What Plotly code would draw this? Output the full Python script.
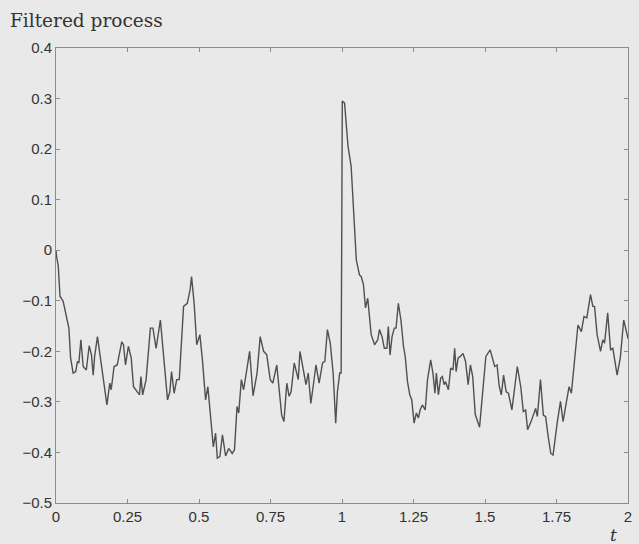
import plotly.graph_objects as go

t_vals = [0.0, 0.002, 0.008, 0.014, 0.025, 0.037, 0.045, 0.051, 0.060, 0.069, 0.075, 0.080, 0.087, 0.095,
          0.106, 0.116, 0.124, 0.130, 0.135, 0.145, 0.153, 0.161, 0.170, 0.178, 0.188, 0.193, 0.203,
          0.214, 0.222, 0.230, 0.236, 0.243, 0.253, 0.263, 0.271, 0.284, 0.292, 0.297, 0.303, 0.315,
          0.330, 0.339, 0.350, 0.365, 0.378, 0.390, 0.398, 0.404, 0.413, 0.422, 0.431, 0.446, 0.459,
          0.469, 0.474, 0.483, 0.492, 0.503, 0.512, 0.523, 0.531, 0.541, 0.550, 0.558, 0.564, 0.573,
          0.582, 0.593, 0.604, 0.616, 0.624, 0.633, 0.639, 0.648, 0.656, 0.668, 0.677, 0.689, 0.703,
          0.714, 0.726, 0.737, 0.749, 0.758, 0.772, 0.789, 0.797, 0.807, 0.815, 0.822, 0.833, 0.847,
          0.853, 0.865, 0.874, 0.882, 0.891, 0.899, 0.909, 0.920, 0.932, 0.940, 0.949, 0.959, 0.969,
          0.978, 0.984, 0.992, 0.997, 1.001, 1.009, 1.021, 1.029, 1.032, 1.050, 1.061, 1.067, 1.075,
          1.082, 1.090, 1.102, 1.114, 1.125, 1.131, 1.140, 1.148, 1.157, 1.162, 1.168, 1.175, 1.183,
          1.189, 1.197, 1.206, 1.215, 1.221, 1.229, 1.237, 1.244, 1.252, 1.260, 1.267, 1.273, 1.281,
          1.291, 1.299, 1.310, 1.318, 1.325, 1.330, 1.337, 1.345, 1.351, 1.357, 1.362, 1.372, 1.380,
          1.388, 1.394, 1.399, 1.406, 1.414, 1.423, 1.432, 1.441, 1.449, 1.457, 1.466, 1.481, 1.492,
          1.503, 1.518, 1.527, 1.534, 1.542, 1.550, 1.557, 1.565, 1.574, 1.582, 1.594, 1.605, 1.613,
          1.625, 1.634, 1.642, 1.649, 1.661, 1.669, 1.677, 1.683, 1.694, 1.704, 1.712, 1.721, 1.730,
          1.738, 1.744, 1.753, 1.764, 1.773, 1.782, 1.794, 1.802, 1.811, 1.825, 1.837, 1.846, 1.856,
          1.861, 1.869, 1.877, 1.883, 1.892, 1.904, 1.912, 1.918, 1.929, 1.939, 1.947, 1.955, 1.962,
          1.973, 1.985, 1.997, 2.0]

y_vals = [0.0, -0.012, -0.032, -0.091, -0.101, -0.131, -0.154, -0.213, -0.243, -0.240, -0.220, -0.223, -0.177, -0.230,
          -0.237, -0.189, -0.207, -0.247, -0.210, -0.171, -0.204, -0.243, -0.270, -0.306, -0.263, -0.276, -0.230,
          -0.227, -0.204, -0.181, -0.187, -0.227, -0.190, -0.213, -0.270, -0.280, -0.286, -0.250, -0.286, -0.256,
          -0.154, -0.154, -0.194, -0.138, -0.223, -0.296, -0.280, -0.240, -0.283, -0.256, -0.256, -0.111, -0.105,
          -0.078, -0.052, -0.105, -0.187, -0.167, -0.217, -0.296, -0.270, -0.342, -0.389, -0.362, -0.411, -0.408,
          -0.365, -0.407, -0.392, -0.402, -0.395, -0.309, -0.322, -0.256, -0.276, -0.233, -0.200, -0.288, -0.243,
          -0.171, -0.200, -0.207, -0.256, -0.263, -0.227, -0.326, -0.339, -0.263, -0.289, -0.280, -0.223, -0.256,
          -0.200, -0.237, -0.266, -0.243, -0.303, -0.270, -0.227, -0.263, -0.223, -0.220, -0.157, -0.184, -0.243,
          -0.342, -0.280, -0.243, -0.243, 0.295, 0.291, 0.206, 0.176, 0.166, -0.019, -0.049, -0.052, -0.068,
          -0.114, -0.095, -0.167, -0.187, -0.177, -0.157, -0.171, -0.194, -0.194, -0.151, -0.207, -0.171, -0.154,
          -0.154, -0.105, -0.138, -0.190, -0.210, -0.260, -0.286, -0.296, -0.342, -0.322, -0.332, -0.316, -0.306,
          -0.316, -0.256, -0.217, -0.243, -0.283, -0.243, -0.286, -0.253, -0.250, -0.266, -0.260, -0.276, -0.233,
          -0.237, -0.194, -0.240, -0.213, -0.210, -0.204, -0.220, -0.266, -0.227, -0.250, -0.325, -0.350, -0.276,
          -0.210, -0.197, -0.217, -0.230, -0.227, -0.270, -0.286, -0.247, -0.280, -0.283, -0.316, -0.266, -0.230,
          -0.270, -0.319, -0.316, -0.355, -0.339, -0.326, -0.313, -0.329, -0.256, -0.326, -0.329, -0.369, -0.402,
          -0.405, -0.375, -0.339, -0.299, -0.339, -0.309, -0.270, -0.283, -0.230, -0.148, -0.161, -0.131, -0.134,
          -0.114, -0.088, -0.111, -0.111, -0.167, -0.200, -0.177, -0.184, -0.124, -0.197, -0.194, -0.227, -0.247,
          -0.213, -0.138, -0.167, -0.175]

x_tickvals = [0, 0.25, 0.5, 0.75, 1, 1.25, 1.5, 1.75, 2]
x_ticktext = ["0", "0.25", "0.5", "0.75", "1", "1.25", "1.5", "1.75", "2"]
y_tickvals = [0.4, 0.3, 0.2, 0.1, 0, -0.1, -0.2, -0.3, -0.4, -0.5]
y_ticktext = ["0.4", "0.3", "0.2", "0.1", "0", "\u22120.1", "\u22120.2", "\u22120.3", "\u22120.4", "\u22120.5"]

BG = "#e9e9e9"
AX = "#8c8c8c"
TXT = "#333333"

fig = go.Figure()
fig.add_trace(go.Scatter(x=t_vals, y=y_vals, mode="lines",
                         line=dict(color="#505050", width=1.4), showlegend=False))

axis_common = dict(showgrid=False, zeroline=False, showline=True, linecolor=AX, linewidth=1,
                   mirror="allticks", ticks="inside", ticklen=4, tickcolor=AX, tickwidth=1,
                   tickfont=dict(family="Liberation Sans, Arial, sans-serif", size=15, color=TXT))

fig.update_xaxes(range=[0, 2], tickvals=x_tickvals, ticktext=x_ticktext, **axis_common)
fig.update_yaxes(range=[-0.5, 0.4], tickvals=y_tickvals, ticktext=y_ticktext, **axis_common)

w_plot = 639 - 56 - 7
h_plot = 544 - 48 - 41

fig.update_layout(
    width=639, height=544,
    margin=dict(l=56, r=7, t=48, b=41),
    paper_bgcolor=BG, plot_bgcolor=BG,
    annotations=[
        dict(text="Filtered process", x=(8 - 56) / w_plot, y=(503 - 21) / h_plot,
             xref="paper", yref="paper", xanchor="left", yanchor="middle", showarrow=False,
             font=dict(family="DejaVu Serif, serif", size=18.5, color=TXT)),
        dict(text="<i>t</i>", x=(617 - 56) / w_plot, y=(503 - 535) / h_plot,
             xref="paper", yref="paper", xanchor="center", yanchor="middle", showarrow=False,
             font=dict(family="DejaVu Serif, serif", size=17, color=TXT)),
    ],
)

fig.write_html("out.html")
